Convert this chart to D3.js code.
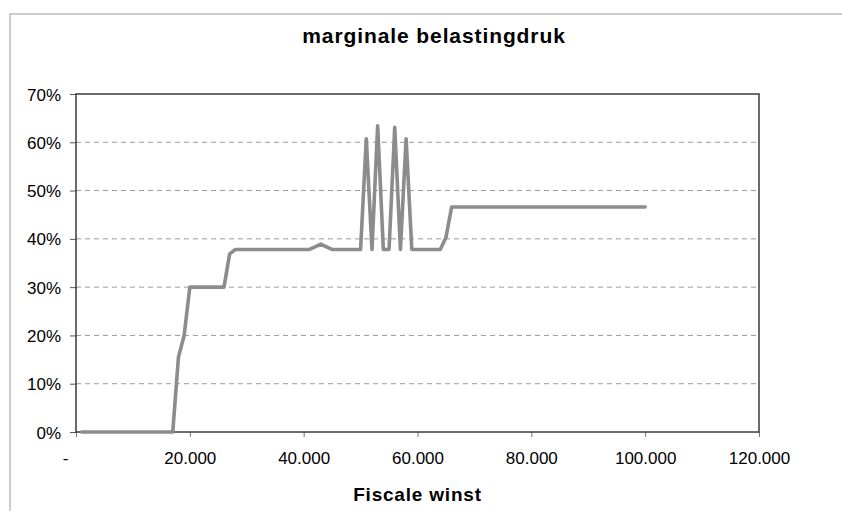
<!DOCTYPE html>
<html>
<head>
<meta charset="utf-8">
<script src="https://cdn.jsdelivr.net/npm/d3@7"></script>
<style>
    body { margin: 0; background: #fff; }
    svg { display: block; font-family: "Liberation Sans", Arial, sans-serif; }
</style>
</head>
<body>
<svg class="chart" width="842" height="511"></svg>
<script>
// fiscale winst (euro) en marginale druk (%)
var winst = [1000, 2000, 3000, 4000, 5000, 6000, 7000, 8000, 9000, 10000,
    11000, 12000, 13000, 14000, 15000, 16000, 17000, 18000, 19000, 20000,
    21000, 22000, 23000, 24000, 25000, 26000, 27000, 28000, 29000, 30000,
    31000, 32000, 33000, 34000, 35000, 36000, 37000, 38000, 39000, 40000,
    41000, 42000, 43000, 44000, 45000, 46000, 47000, 48000, 49000, 50000,
    51000, 52000, 53000, 54000, 55000, 56000, 57000, 58000, 59000, 60000,
    61000, 62000, 63000, 64000, 65000, 66000, 67000, 68000, 69000, 70000,
    71000, 72000, 73000, 74000, 75000, 76000, 77000, 78000, 79000, 80000,
    81000, 82000, 83000, 84000, 85000, 86000, 87000, 88000, 89000, 90000,
    91000, 92000, 93000, 94000, 95000, 96000, 97000, 98000, 99000, 100000];
var druk = [0, 0, 0, 0, 0, 0, 0, 0, 0, 0,
    0, 0, 0, 0, 0, 0, 0, 15.5, 20, 30,
    30, 30, 30, 30, 30, 30, 36.9, 37.8, 37.8, 37.8,
    37.8, 37.8, 37.8, 37.8, 37.8, 37.8, 37.8, 37.8, 37.8, 37.8,
    37.8, 38.35, 38.9, 38.35, 37.8, 37.8, 37.8, 37.8, 37.8, 37.8,
    60.7, 37.8, 63.4, 37.8, 37.8, 63.1, 37.8, 60.7, 37.8, 37.8,
    37.8, 37.8, 37.8, 37.8, 40.3, 46.6, 46.6, 46.6, 46.6, 46.6,
    46.6, 46.6, 46.6, 46.6, 46.6, 46.6, 46.6, 46.6, 46.6, 46.6,
    46.6, 46.6, 46.6, 46.6, 46.6, 46.6, 46.6, 46.6, 46.6, 46.6,
    46.6, 46.6, 46.6, 46.6, 46.6, 46.6, 46.6, 46.6, 46.6, 46.6];

var xTicks = [0, 20000, 40000, 60000, 80000, 100000, 120000];
var yTicks = [0, 10, 20, 30, 40, 50, 60, 70];
var title = "marginale belastingdruk";
var xTitle = "Fiscale winst";

var svg = d3.select("svg.chart");
var margin = { top: 94, right: 83, bottom: 79, left: 76 };
var width = 842 - margin.left - margin.right;
var height = 511 - margin.top - margin.bottom;

// chart border (only left/top visible in the crop)
svg.append("rect")
    .attr("x", 10).attr("y", 14)
    .attr("width", 1000).attr("height", 1000)
    .attr("fill", "none")
    .attr("stroke", "#bdbdbd")
    .attr("stroke-width", 1.5);

svg.append("text")
    .attr("x", 434).attr("y", 43)
    .attr("text-anchor", "middle")
    .attr("font-size", 21)
    .attr("font-weight", "bold")
    .attr("letter-spacing", 0.9)
    .text(title);

var g = svg.append("g").attr("transform", "translate(" + margin.left + "," + margin.top + ")");

var x = d3.scaleLinear().domain([0, 120000]).range([0, width]);
var y = d3.scaleLinear().domain([0, 70]).range([height, 0]);

var fmt = function (d) {
    return d === 0 ? "-" : d3.format(",")(d).replace(/,/g, ".");
};

// gridlines
g.append("g")
    .selectAll("line")
    .data(yTicks.filter(function (d) { return d > 0 && d < 70; }))
    .enter().append("line")
    .attr("x1", 0).attr("x2", width)
    .attr("y1", function (d) { return y(d); })
    .attr("y2", function (d) { return y(d); })
    .attr("stroke", "#9a9a9a")
    .attr("stroke-width", 1)
    .attr("stroke-dasharray", "5,4");

// y axis
var yAxis = g.append("g")
    .call(d3.axisLeft(y).tickValues(yTicks).tickSize(6).tickPadding(9)
        .tickFormat(function (d) { return d + "%"; }));
yAxis.select(".domain").remove();
yAxis.selectAll(".tick line").attr("stroke", "#555");
yAxis.selectAll("text")
    .attr("font-size", 17)
    .attr("font-family", "Liberation Sans, Arial, sans-serif")
    .attr("fill", "#000")
    .attr("dy", "0.36em");

// x axis
var xAxis = g.append("g")
    .attr("transform", "translate(0," + height + ")")
    .call(d3.axisBottom(x).tickValues(xTicks).tickSize(5).tickPadding(15).tickFormat(fmt));
xAxis.select(".domain").remove();
xAxis.selectAll(".tick line").attr("stroke", "#777");
xAxis.selectAll("text")
    .attr("font-size", 17)
    .attr("font-family", "Liberation Sans, Arial, sans-serif")
    .attr("fill", "#000")
    .attr("dx", function (d) { return d === 0 ? -11 : 0; });

// plot area border
g.append("rect")
    .attr("width", width).attr("height", height)
    .attr("fill", "none")
    .attr("stroke", "#3a3a3a")
    .attr("stroke-width", 1.5);

var line = d3.line()
    .x(function (d, i) { return x(winst[i]); })
    .y(function (d) { return y(d); });

g.append("path")
    .datum(druk)
    .attr("d", line)
    .attr("fill", "none")
    .attr("stroke", "#8c8c8c")
    .attr("stroke-width", 3.6)
    .attr("stroke-linejoin", "round")
    .attr("stroke-linecap", "round");

svg.append("text")
    .attr("x", margin.left + width / 2).attr("y", 501)
    .attr("text-anchor", "middle")
    .attr("font-size", 19)
    .attr("font-weight", "bold")
    .attr("letter-spacing", 0.8)
    .text(xTitle);
</script>
</body>
</html>
